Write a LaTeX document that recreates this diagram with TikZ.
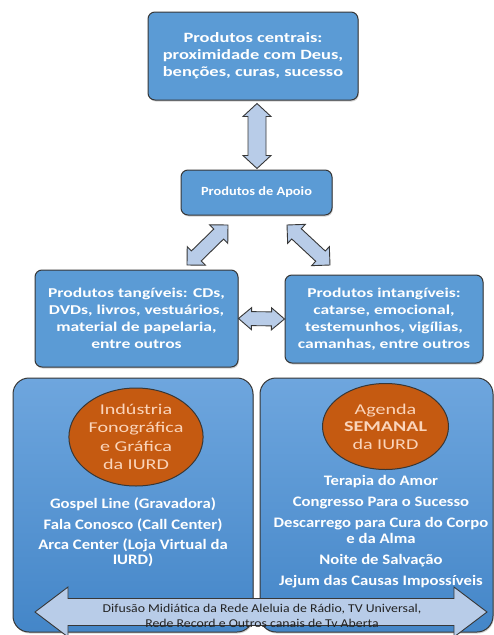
\documentclass[tikz,border=0pt]{standalone}
\usepackage{fontspec}
\setmainfont{Carlito}[FakeStretch=1.15]
\newfontfamily\widefont{Carlito}[FakeStretch=1.3]
\newfontfamily\ovalfont{Carlito}[FakeStretch=1.34]
\usetikzlibrary{calc,shadows,shapes.geometric}

\definecolor{boxblue}{RGB}{91,155,213}
\definecolor{boxedge}{RGB}{55,55,55}
\definecolor{arrowfill}{RGB}{184,204,232}
\definecolor{ovalfill}{RGB}{197,90,17}
\definecolor{ovaltext}{RGB}{250,212,186}
\definecolor{paneltop}{RGB}{110,166,222}
\definecolor{panelbot}{RGB}{68,134,200}
\definecolor{bandtext}{RGB}{35,35,35}

\tikzset{
  blockbox/.style={draw=boxedge, line width=1pt, fill=boxblue, rounded corners=7pt,
    text=white, font=\widefont\bfseries\fontsize{13.5}{17}\selectfont, align=center, inner sep=0pt,
    drop shadow={opacity=0.35, shadow xshift=0.8pt, shadow yshift=-1.5pt}},
  panelbox/.style={draw=boxedge, line width=1pt, top color=paneltop, bottom color=panelbot,
    rounded corners=16pt, inner sep=0pt,
    drop shadow={opacity=0.35, shadow xshift=0.8pt, shadow yshift=-1.5pt}},
  ovalbox/.style={ellipse, draw=boxedge, line width=1pt, fill=ovalfill, text=ovaltext,
    inner sep=0pt, align=center, font=\ovalfont\fontsize{15}{18.5}\selectfont},
  listtext/.style={text=white, align=center, inner sep=0pt,
    font=\bfseries\fontsize{14.5}{16}\selectfont},
  arrowstyle/.style={draw=boxedge, line width=0.9pt, fill=arrowfill, line join=miter},
}

% Double-headed block arrow between two named points:
% #1, #2 tips; #3 half shaft width; #4 half head width; #5 head length
\newcommand{\blockdarrow}[5]{%
  \path ($(#1)!#5!(#2)$) coordinate (ha) ($(#2)!#5!(#1)$) coordinate (hb);
  \draw[arrowstyle] (#1) -- ($(ha)!#4!90:(#2)$) -- ($(ha)!#3!90:(#2)$)
    -- ($(hb)!#3!-90:(#1)$) -- ($(hb)!#4!-90:(#1)$) -- (#2)
    -- ($(hb)!#4!90:(#1)$) -- ($(hb)!#3!90:(#1)$)
    -- ($(ha)!#3!-90:(#2)$) -- ($(ha)!#4!-90:(#2)$) -- cycle;}

\begin{document}
\begin{tikzpicture}[x=1pt, y=-1pt]
\useasboundingbox[fill=white] (0,0) rectangle (494,635);

% upper chain of boxes
\node[blockbox, minimum width=210pt, minimum height=88pt,
  font=\widefont\bfseries\fontsize{14.2}{17}\selectfont] (central) at (253,56)
  {Produtos centrais:\\proximidade com Deus,\\benções, curas, sucesso};
\node[blockbox, minimum width=151pt, minimum height=45pt,
  font=\bfseries\fontsize{12.5}{14}\selectfont] (apoio) at (256.5,192.5) {Produtos de Apoio};
\node[blockbox, minimum width=203pt, minimum height=97pt] (tang) at (136.5,318.5)
  {Produtos tangíveis: CDs,\\DVDs, livros, vestuários,\\material de papelaria,\\entre outros};
\node[blockbox, minimum width=198pt, minimum height=88pt] (intang) at (384,319)
  {Produtos intangíveis:\\catarse, emocional,\\testemunhos, vigílias,\\camanhas, entre outros};

% connectors of the upper chain
\coordinate (c1) at ($(central.south)+(4,3)$);
\coordinate (c2) at ($(apoio.north)+(0.5,-1)$);
\blockdarrow{c1}{c2}{9pt}{14pt}{13pt}
\coordinate (l1) at (228,225);
\coordinate (l2) at (187,265);
\blockdarrow{l1}{l2}{7pt}{13pt}{13pt}
\coordinate (r1) at (287,225);
\coordinate (r2) at (330,265);
\blockdarrow{r1}{r2}{7pt}{13pt}{13pt}
\coordinate (m1) at (tang.east);
\coordinate (m2) at (intang.west);
\blockdarrow{m1}{m2}{7pt}{11pt}{13pt}

% lower panels
\node[panelbox, minimum width=240pt, minimum height=254pt] (leftpanel) at (133,505) {};
\node[panelbox, minimum width=233pt, minimum height=254pt] (rightpanel) at (376.5,505) {};

\node[ovalbox, minimum width=107pt, minimum height=98pt] (industria) at (136,437)
  {Indústria\\Fonográfica\\e Gráfica\\da IURD};
\node[ovalbox, minimum width=126pt, minimum height=86pt, font=\ovalfont\fontsize{15}{17.5}\selectfont]
  (agenda) at (385.5,426.5) {Agenda\\\textbf{SEMANAL}\\da IURD};

\node[listtext, anchor=north] (leftlist) at (133,497.5)
  {Gospel Line (Gravadora)\\[5pt]Fala Conosco (Call Center)\\[4pt]Arca Center (Loja Virtual da\\[-1pt]IURD)};
\node[listtext, anchor=north, font=\bfseries\fontsize{14.5}{15.5}\selectfont] (rightlist) at (381,475)
  {Terapia do Amor\\[6pt]Congresso Para o Sucesso\\[5.5pt]Descarrego para Cura do Corpo\\e da Alma\\[5.5pt]Noite de Salvação\\[6pt]Jejum das Causas Impossíveis};

% media band across both panels
\coordinate (b1) at (35,612);
\coordinate (b2) at (487,612);
\blockdarrow{b1}{b2}{13.5pt}{25pt}{33pt}
\node[text=bandtext, align=center, inner sep=0pt, font=\fontsize{12}{14.5}\selectfont]
  (midia) at (262,616)
  {Difusão Midiática da Rede Aleluia de Rádio, TV Universal,\\Rede Record e Outros canais de Tv Aberta};
\end{tikzpicture}
\end{document}
